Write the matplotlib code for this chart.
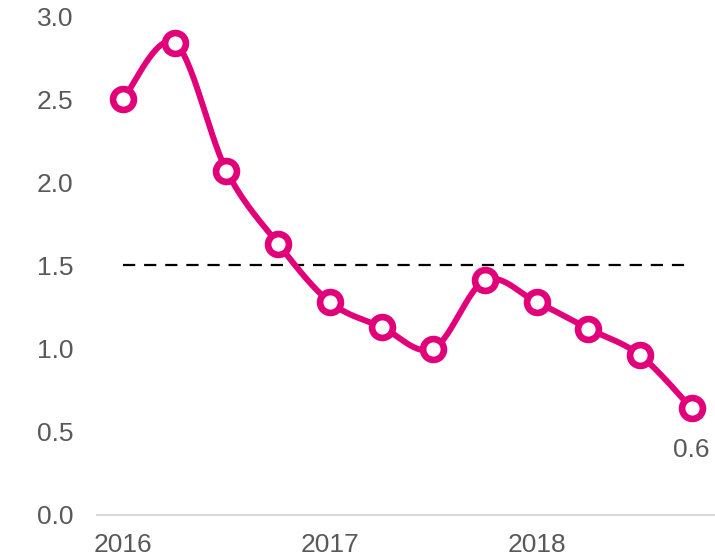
import numpy as np
import matplotlib
matplotlib.use("Agg")
import matplotlib.pyplot as plt

plt.rcParams['font.family'] = ['Liberation Sans', 'DejaVu Sans']

quarters = list(range(12))
values = [2.50, 2.84, 2.07, 1.63, 1.28, 1.13, 1.00, 1.41, 1.28, 1.12, 0.96, 0.64]
year_ticks = [0, 4, 8]
year_labels = ['2016', '2017', '2018']
target = 1.5
last_label = '0.6'

PINK = '#E2007A'
GREY = '#595959'


def smooth(x, y, n=30, tension=0.5):
    # cardinal spline through every point
    x = np.asarray(x, float)
    y = np.asarray(y, float)
    px = np.concatenate([[x[0]], x, [x[-1]]])
    py = np.concatenate([[y[0]], y, [y[-1]]])
    xs, ys = [], []
    t = np.linspace(0, 1, n)
    for i in range(1, len(px) - 2):
        p0, p1, p2, p3 = (np.array([px[j], py[j]]) for j in (i - 1, i, i + 1, i + 2))
        m1 = tension * (p2 - p0)
        m2 = tension * (p3 - p1)
        h00 = 2 * t**3 - 3 * t**2 + 1
        h10 = t**3 - 2 * t**2 + t
        h01 = -2 * t**3 + 3 * t**2
        h11 = t**3 - t**2
        seg = (np.outer(h00, p1) + np.outer(h10, m1) + np.outer(h01, p2) + np.outer(h11, m2))
        xs.append(seg[:, 0])
        ys.append(seg[:, 1])
    return np.concatenate(xs), np.concatenate(ys)


fig = plt.figure(figsize=(7.15, 5.56), dpi=100)
ax = fig.add_axes([0.136, 0.074, 0.864, 0.897])

ax.plot([quarters[0], quarters[-1] - 0.1], [target, target], color='black', lw=1.6,
        ls=(0, (5.5, 4)), zorder=1)

sx, sy = smooth(quarters, values)
ax.plot(sx, sy, color=PINK, lw=4.3, solid_capstyle='round', zorder=2)
ax.plot(quarters, values, ls='none', marker='o', ms=15, mfc='white',
        mec=PINK, mew=4.8, zorder=3)

ax.annotate(last_label, (quarters[-1], values[-1]), xytext=(0, -21),
            textcoords='offset points', ha='center', va='top',
            fontsize=19, color=GREY)

ax.set_xlim(-0.5, 11.45)
ax.set_ylim(0, 3.0)
ax.set_yticks(np.arange(0, 3.01, 0.5))
ax.set_yticklabels([f'{v:.1f}' for v in np.arange(0, 3.01, 0.5)])
ax.set_xticks(year_ticks)
ax.set_xticklabels(year_labels)

for s in ['top', 'right', 'left']:
    ax.spines[s].set_visible(False)
ax.spines['bottom'].set_color('#D9D9D9')
ax.spines['bottom'].set_linewidth(1.5)
ax.tick_params(axis='both', length=0, labelsize=19, labelcolor=GREY)
ax.tick_params(axis='y', pad=17)
ax.tick_params(axis='x', pad=13)

fig.savefig('out.png', dpi=100)
